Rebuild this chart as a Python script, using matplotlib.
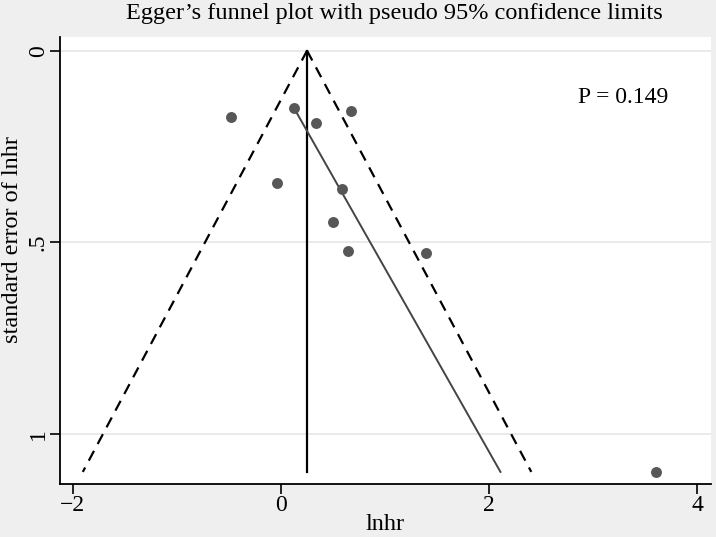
import numpy as np
import matplotlib.pyplot as plt

plt.rcParams['font.family'] = ['Liberation Serif', 'DejaVu Serif']

# study estimates (log hazard ratio) and their standard errors
lnhr = [-0.48, 0.125, 0.34, 0.67, -0.04, 0.59, 0.50, 0.64, 1.39, 3.60]
se_lnhr = [0.172, 0.150, 0.189, 0.157, 0.346, 0.360, 0.446, 0.523, 0.529, 1.099]

pooled = 0.25          # fixed-effect estimate
egger_a = -0.188       # intercept of Egger line (at se = 0)
egger_b = 2.089        # slope of Egger line
p_value = "P = 0.149"

xticks = [-2, 0, 2, 4]
yticks = [0, 0.5, 1]
yticklabels = ['0', '.5', '1']

se_max = max(se_lnhr)
se_min = min(se_lnhr)

fig = plt.figure(figsize=(7.16, 5.37), dpi=100, facecolor='#efefef')
ax = fig.add_axes([0.0838, 0.0993, 0.9092, 0.8318])
ax.set_facecolor('white')

for yt in yticks:
    ax.axhline(yt, color='#e6e6e6', lw=1.2, zorder=0)

# pseudo 95% confidence limits
se_line = np.array([0, se_max])
ax.plot(pooled - 1.96 * se_line, se_line, color='black', ls=(0, (5, 3.5)), lw=1.6)
ax.plot(pooled + 1.96 * se_line, se_line, color='black', ls=(0, (5, 3.5)), lw=1.6)
ax.plot([pooled, pooled], [0, se_max], color='black', lw=1.6)

# Egger regression line
se_eg = np.array([se_min, se_max])
ax.plot(egger_a + egger_b * se_eg, se_eg, color='#444444', lw=1.4)

ax.scatter(lnhr, se_lnhr, s=62, color='#575757', zorder=3, linewidths=0)

ax.text(2.85, 0.121, p_value, fontsize=17, va='center', ha='left')

ax.set_xlim(-2.123, 4.13)
ax.set_ylim(1.1297, -0.0357)
ax.set_xticks(xticks)
ax.set_xticklabels(['\u22122', '0', '2', '4'])
ax.set_yticks(yticks)
ax.set_yticklabels(yticklabels, rotation=90, va='center')
ax.tick_params(direction='out', length=7, width=1.2, labelsize=17, pad=1)

for side in ['top', 'right']:
    ax.spines[side].set_visible(False)
for side in ['left', 'bottom']:
    ax.spines[side].set_linewidth(1.3)

ax.set_xlabel('lnhr', fontsize=17.5, labelpad=-1)
ax.set_ylabel('standard error of lnhr', fontsize=17.5)
ax.yaxis.set_label_coords(-0.057, 0.546)

fig.suptitle('Egger\u2019s funnel plot with pseudo 95% confidence limits', fontsize=17.5, x=0.551, y=0.995)

fig.savefig('out.png', dpi=100, facecolor=fig.get_facecolor())
